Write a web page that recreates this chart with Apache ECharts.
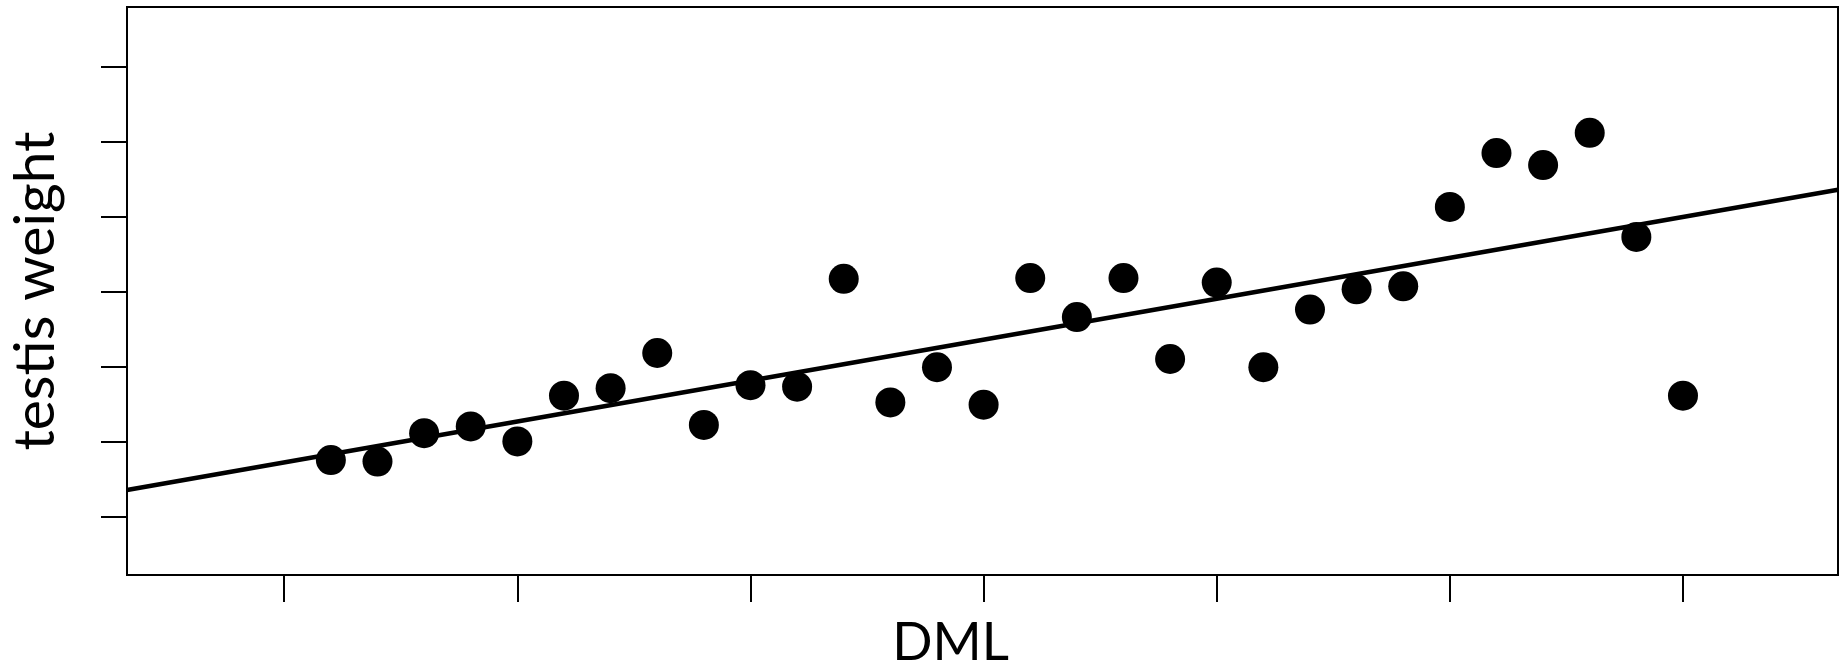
<!DOCTYPE html>
<html>
<head>
<meta charset="utf-8">
<script src="https://cdn.jsdelivr.net/npm/echarts@6/dist/echarts.min.js"></script>
<style>
html,body{margin:0;padding:0;background:#fff;}
#chart{width:1840px;height:666px;}
</style>
</head>
<body>
<div id="chart"></div>
<script>
// Data
const dmlValues = [1.2,1.4,1.6,1.8,2.0,2.2,2.4,2.6,2.8,3.0,3.2,3.4,3.6,3.8,4.0,4.2,4.4,4.6,4.8,5.0,5.2,5.4,5.6,5.8,6.0,6.2,6.4,6.6,6.8,7.0];
const testisWeight = [1.75,1.73,2.11,2.20,2.00,2.61,2.71,3.18,2.22,2.75,2.73,4.17,2.52,2.99,2.49,4.18,3.66,4.18,3.10,4.12,2.99,3.76,4.03,4.07,5.13,5.85,5.69,6.12,4.73,2.61];
const fitX = [0.3255, 7.665];
const fitY = [1.35, 5.36];
const xTicks = [1,2,3,4,5,6,7];
const yTicks = [1,2,3,4,5,6,7];
const xTitle = 'DML';
const yTitle = 'testis weight';

const points = dmlValues.map((x,i)=>[x, testisWeight[i]]);
const fitLine = fitX.map((x,i)=>[x, fitY[i]]);

const chart = echarts.init(document.getElementById('chart'), null, {renderer:'canvas'});
const fontFam = 'Lato, "Open Sans", sans-serif';
chart.setOption({
  animation:false,
  backgroundColor:'#fff',
  grid:{left:127, right:2, top:7, bottom:91, containLabel:false, outerBoundsMode:'none',
        show:true, borderColor:'#000', borderWidth:2, backgroundColor:'transparent'},
  xAxis:{
    type:'value', min:0.3255, max:7.665,
    name:xTitle, nameLocation:'middle', nameGap:41,
    nameTextStyle:{fontFamily:fontFam, fontSize:53, color:'#000', padding:[0,64,0,0]},
    axisLine:{show:true, lineStyle:{color:'#000', width:2}},
    axisTick:{show:true, length:27, customValues:xTicks, lineStyle:{color:'#000', width:2}},
    axisLabel:{show:false, customValues:xTicks},
    splitLine:{show:false}
  },
  yAxis:{
    type:'value', min:0.216, max:7.80,
    name:yTitle, nameLocation:'middle', nameGap:63, nameRotate:90,
    nameTextStyle:{fontFamily:fontFam, fontSize:57, color:'#000'},
    axisLine:{show:true, lineStyle:{color:'#000', width:2}},
    axisTick:{show:true, length:26, customValues:yTicks, lineStyle:{color:'#000', width:2}},
    axisLabel:{show:false, customValues:yTicks},
    splitLine:{show:false}
  },
  series:[
    {type:'line', data:fitLine, showSymbol:false, symbol:'none', lineStyle:{color:'#000', width:4.5}, z:2},
    {type:'scatter', data:points, symbol:'circle', symbolSize:30, itemStyle:{color:'#000', opacity:1}, z:3}
  ]
});
</script>
</body>
</html>
